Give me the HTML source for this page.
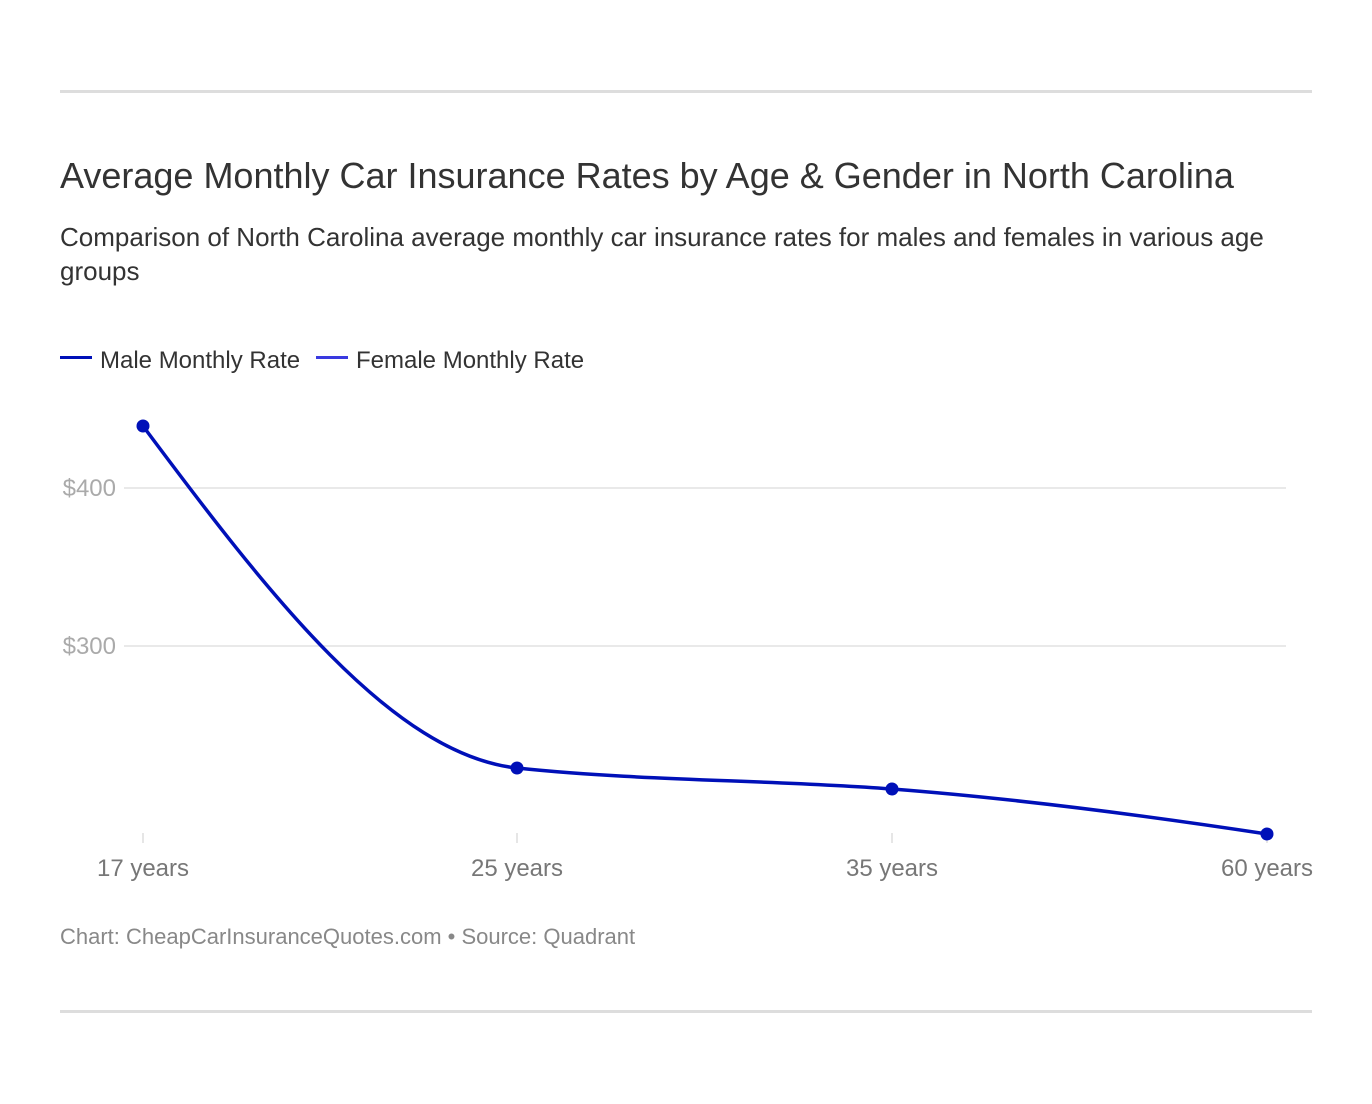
<!DOCTYPE html>
<html><head><meta charset="utf-8"><style>
body{margin:0;background:#fff;width:1372px;height:1104px;overflow:hidden;font-family:"Liberation Sans",sans-serif;}
</style></head><body>
<svg width="1372" height="1104" xmlns="http://www.w3.org/2000/svg" style="position:absolute;left:0;top:0">
<rect x="60" y="90" width="1252" height="3" fill="#dddddd"/>
<rect x="60" y="1010" width="1252" height="3" fill="#dddddd"/>
<text x="60" y="188" font-family="Liberation Sans, sans-serif" font-size="36" fill="#333">Average Monthly Car Insurance Rates by Age &amp; Gender in North Carolina</text>
<text x="60" y="246" font-family="Liberation Sans, sans-serif" font-size="26" fill="#333">Comparison of North Carolina average monthly car insurance rates for males and females in various age</text>
<text x="60" y="280" font-family="Liberation Sans, sans-serif" font-size="26" fill="#333">groups</text>
<rect x="60" y="356" width="32" height="3" fill="#0010b8"/>
<text x="100" y="368" font-family="Liberation Sans, sans-serif" font-size="24" fill="#333">Male Monthly Rate</text>
<rect x="316" y="356" width="32" height="3" fill="#3a3ae0"/>
<text x="356" y="368" font-family="Liberation Sans, sans-serif" font-size="24" fill="#333">Female Monthly Rate</text>
<line x1="124" y1="488" x2="1286" y2="488" stroke="#e2e2e2" stroke-width="1.5"/>
<line x1="124" y1="646" x2="1286" y2="646" stroke="#e2e2e2" stroke-width="1.5"/>
<text x="116" y="496" text-anchor="end" font-family="Liberation Sans, sans-serif" font-size="24" fill="#aaa">$400</text>
<text x="116" y="654" text-anchor="end" font-family="Liberation Sans, sans-serif" font-size="24" fill="#aaa">$300</text>
<g stroke="#ddd" stroke-width="1.5">
<line x1="143" y1="833" x2="143" y2="843"/><line x1="517" y1="833" x2="517" y2="843"/><line x1="892" y1="833" x2="892" y2="843"/><line x1="1267" y1="833" x2="1267" y2="843"/>
</g>
<g font-family="Liberation Sans, sans-serif" font-size="24" fill="#777" text-anchor="middle">
<text x="143" y="876">17 years</text><text x="517" y="876">25 years</text><text x="892" y="876">35 years</text><text x="1267" y="876">60 years</text>
</g>
<path d="M143,426 C267.7,593.4 392.3,754.8 517,768 C642,781.2 767,779.5 892,789 C1017,798.6 1142,815 1267,834" fill="none" stroke="#0010b8" stroke-width="3.5"/>
<g fill="#0010b8"><circle cx="143" cy="426" r="6.5"/><circle cx="517" cy="768" r="6.5"/><circle cx="892" cy="789" r="6.5"/><circle cx="1267" cy="834" r="6.5"/></g>
<text x="60" y="944" font-family="Liberation Sans, sans-serif" font-size="22" fill="#888">Chart: CheapCarInsuranceQuotes.com • Source: Quadrant</text>
</svg>
</body></html>
